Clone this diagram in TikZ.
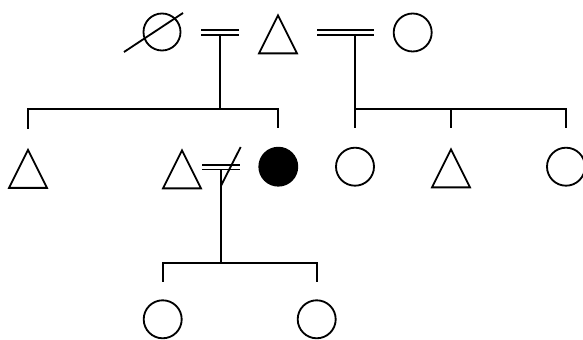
\documentclass[tikz,border=0pt]{standalone}
\usepackage{tikz}
\usetikzlibrary{shapes.geometric}

\begin{document}
\begin{tikzpicture}[x=0.3mm, y=-0.3mm, line width=0.55mm,
  zena/.style={circle, draw, inner sep=0pt, minimum size=11.4mm},
  muz/.style={isosceles triangle, isosceles triangle stretches, shape border rotate=90,
    draw, inner sep=0pt, minimum width=11.4mm, minimum height=11.4mm, anchor=apex},
  snatek/.style={double, double distance=0.8mm},
  vetev/.style={shorten >=5.6mm}]
  \useasboundingbox (0,0) rectangle (583,340);
  % Prarodice
  \node[zena, minimum size=11.1mm] (zemrela) at (162,32) {};
  \draw ([shift={(-38,20)}]zemrela.center) -- ([shift={(21,-19)}]zemrela.center);
  \node[muz] (deda) at (278,13) {};
  \node[zena] (babicka) at (412.7,32.5) {};
  % Deti
  \node[muz] (syn1) at (28,147.5) {};
  \node[muz] (syn2) at (182,148) {};
  \node[zena, fill] (snacha) at (278.3,166.7) {};
  \node[zena] (dcera1) at (355,166.7) {};
  \node[muz] (syn3) at (451,147) {};
  \node[zena] (dcera2) at (566,166.7) {};
  % Vnoucata
  \node[zena] (vnucka1) at (162.7,319.3) {};
  \node[zena] (vnucka2) at (316.7,319.3) {};
  % Prvni manzelstvi
  \coordinate (m1) at (220,32.5);
  \coordinate (v1) at (220,109.3);
  \draw (m1) -- (v1);
  \draw[snatek] ([shift={(-19,0)}]m1) -- ([shift={(19,0)}]m1);
  \draw[vetev] (v1) -| (syn1.apex);
  \draw[vetev] (v1) -| (snacha.north);
  % Druhe manzelstvi
  \coordinate (m2) at (355,32.5);
  \coordinate (v2) at (355,109.3);
  \draw[vetev] (m2) -- (dcera1.north);
  \draw[snatek] ([shift={(-38,0)}]m2) -- ([shift={(19,0)}]m2);
  \draw[vetev] (v2) -| (syn3.apex);
  \draw[vetev] (v2) -| (dcera2.north);
  % Rozvod
  \coordinate (m3) at (221,167.2);
  \coordinate (v3) at (221,263.3);
  \draw (m3) -- (v3);
  \draw[snatek] ([shift={(-19,0)}]m3) -- ([shift={(19,0)}]m3);
  \draw ([shift={(0,18.5)}]m3) -- ([shift={(19.7,-20.2)}]m3);
  \draw[vetev, shorten >=5.1mm] (v3) -| (vnucka1.north);
  \draw[vetev, shorten >=5.1mm] (v3) -| (vnucka2.north);
\end{tikzpicture}
\end{document}
